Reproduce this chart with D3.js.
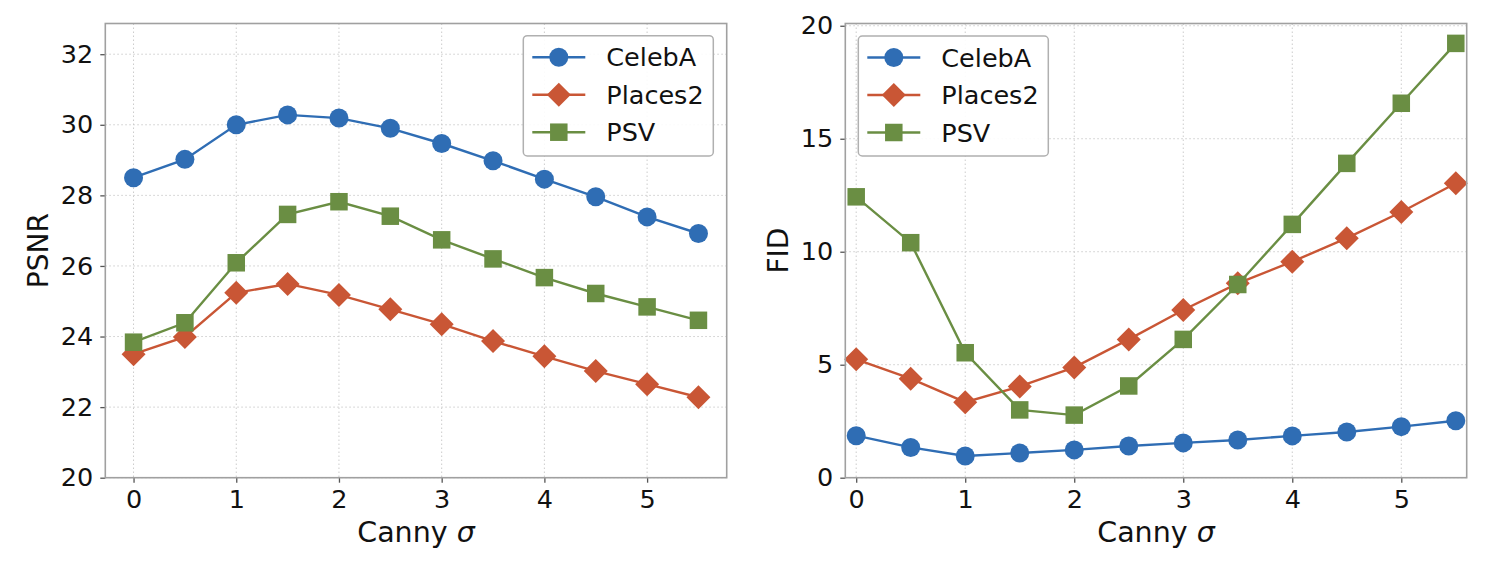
<!DOCTYPE html>
<html>
<head>
<meta charset="utf-8">
<script src="https://cdn.jsdelivr.net/npm/d3@7"></script>
<style>
  body { margin: 0; background: #fff; }
  svg { font-family: "DejaVu Sans", sans-serif; }
</style>
</head>
<body>
<div id="chart"></div>
<script>
// data
var sigmas = [0, 0.5, 1, 1.5, 2, 2.5, 3, 3.5, 4, 4.5, 5, 5.5];
var seriesNames = ["CelebA", "Places2", "PSV"];

var psnrCelebA  = [28.50, 29.02, 30.00, 30.28, 30.19, 29.90, 29.47, 28.98, 28.46, 27.96, 27.39, 26.92];
var psnrPlaces2 = [23.50, 23.99, 25.24, 25.49, 25.18, 24.77, 24.35, 23.87, 23.44, 23.02, 22.65, 22.28];
var psnrPSV     = [23.84, 24.39, 26.09, 27.46, 27.82, 27.41, 26.74, 26.20, 25.67, 25.22, 24.84, 24.46];

var fidCelebA  = [1.86, 1.34, 0.96, 1.09, 1.23, 1.40, 1.54, 1.67, 1.85, 2.02, 2.26, 2.52];
var fidPlaces2 = [5.24, 4.38, 3.34, 4.04, 4.88, 6.12, 7.42, 8.60, 9.56, 10.60, 11.76, 13.03];
var fidPSV     = [12.43, 10.40, 5.53, 3.00, 2.77, 4.06, 6.12, 8.55, 11.21, 13.91, 16.57, 19.22];

var xTicks = [0, 1, 2, 3, 4, 5];
var psnrTicks = [20, 22, 24, 26, 28, 30, 32];
var fidTicks = [0, 5, 10, 15, 20];

var colors = ["#2f6db4", "#c95635", "#6a8e43"];
var shapes = ["circle", "diamond", "square"];

var W = 1492, H = 564;
var svg = d3.select("#chart").append("svg")
  .attr("width", W).attr("height", H);

// draw one marker at (x, y)
function marker(g, shape, x, y, col) {
  if (shape == "circle") {
    g.append("circle").attr("cx", x).attr("cy", y).attr("r", 9.5).attr("fill", col);
  } else if (shape == "diamond") {
    var r = 12;
    g.append("path")
      .attr("d", "M" + x + "," + (y - r) + "L" + (x + r) + "," + y + "L" + x + "," + (y + r) + "L" + (x - r) + "," + y + "Z")
      .attr("fill", col);
  } else {
    var s = 17.5;
    g.append("rect").attr("x", x - s / 2).attr("y", y - s / 2).attr("width", s).attr("height", s)
      .attr("fill", col);
  }
}

function panel(opt) {
  var x = d3.scaleLinear().domain(opt.xDomain).range([opt.left, opt.right]);
  var y = d3.scaleLinear().domain(opt.yDomain).range([opt.bottom, opt.top]);
  var g = svg.append("g");

  // grid
  g.append("g").selectAll("line").data(xTicks).enter().append("line")
    .attr("x1", d => x(d)).attr("x2", d => x(d))
    .attr("y1", opt.top).attr("y2", opt.bottom)
    .attr("stroke", "#cccccc").attr("stroke-width", 1).attr("stroke-dasharray", "1.5,2.5");
  g.append("g").selectAll("line").data(opt.yTicks).enter().append("line")
    .attr("x1", opt.left).attr("x2", opt.right)
    .attr("y1", d => y(d)).attr("y2", d => y(d))
    .attr("stroke", "#cccccc").attr("stroke-width", 1).attr("stroke-dasharray", "1.5,2.5");

  // axes
  var xa = g.append("g").attr("transform", "translate(0," + opt.bottom + ")")
    .call(d3.axisBottom(x).tickValues(xTicks).tickSize(5).tickPadding(7).tickFormat(d3.format("d")));
  var ya = g.append("g").attr("transform", "translate(" + opt.left + ",0)")
    .call(d3.axisLeft(y).tickValues(opt.yTicks).tickSize(5).tickPadding(7).tickFormat(d3.format("d")));
  [xa, ya].forEach(function(a) {
    a.select(".domain").remove();
    a.selectAll(".tick line").attr("stroke", "#555").attr("stroke-width", 1.3);
    a.selectAll(".tick text").attr("font-size", 25.5).attr("fill", "#111")
      .attr("font-family", "DejaVu Sans");
  });

  // lines and markers
  opt.series.forEach(function(vals, i) {
    var line = d3.line().x((d, j) => x(sigmas[j])).y(d => y(d));
    g.append("path").datum(vals).attr("d", line)
      .attr("fill", "none").attr("stroke", colors[i]).attr("stroke-width", 2.4);
    var mg = g.append("g");
    vals.forEach(function(v, j) { marker(mg, shapes[i], x(sigmas[j]), y(v), colors[i]); });
  });

  // spines
  g.append("rect").attr("x", opt.left).attr("y", opt.top)
    .attr("width", opt.right - opt.left).attr("height", opt.bottom - opt.top)
    .attr("fill", "none").attr("stroke", "#a0a0a0").attr("stroke-width", 1.6);

  // axis labels
  var cx = (opt.left + opt.right) / 2;
  var xl = g.append("text").attr("x", cx).attr("y", 542).attr("text-anchor", "middle")
    .attr("font-size", 28.5).attr("fill", "#111");
  xl.append("tspan").text("Canny ");
  xl.append("tspan").attr("font-style", "italic").text("σ");
  g.append("text")
    .attr("transform", "translate(" + opt.yLabelX + "," + ((opt.top + opt.bottom) / 2) + ") rotate(-90)")
    .attr("text-anchor", "middle").attr("dy", "0.35em")
    .attr("font-size", 28).attr("fill", "#111").text(opt.yLabel);

  // legend
  var L = opt.legend;
  g.append("rect").attr("x", L.x).attr("y", L.y).attr("width", L.w).attr("height", L.h)
    .attr("rx", 4).attr("fill", "white").attr("fill-opacity", 0.9)
    .attr("stroke", "#b0b0b0").attr("stroke-width", 1.5);
  seriesNames.forEach(function(name, i) {
    var ly = L.y + 21.5 + i * 37.5;
    g.append("line").attr("x1", L.x + 9).attr("x2", L.x + 62).attr("y1", ly).attr("y2", ly)
      .attr("stroke", colors[i]).attr("stroke-width", 2.4);
    marker(g, shapes[i], L.x + 35.5, ly, colors[i]);
    g.append("text").attr("x", L.x + 83).attr("y", ly).attr("dy", "0.36em")
      .attr("font-size", 25.5).attr("fill", "#111").text(name);
  });
}

panel({
  left: 105.3, right: 726.7, top: 23.5, bottom: 477.7,
  xDomain: [-0.275, 5.775], yDomain: [20, 32.87],
  yTicks: psnrTicks, yLabel: "PSNR", yLabelX: 38,
  series: [psnrCelebA, psnrPlaces2, psnrPSV],
  legend: { x: 523.3, y: 35.7, w: 190, h: 120.3 }
});

panel({
  left: 845.3, right: 1466.7, top: 23.5, bottom: 477.7,
  xDomain: [-0.1, 5.6], yDomain: [0, 20.1],
  yTicks: fidTicks, yLabel: "FID", yLabelX: 778,
  series: [fidCelebA, fidPlaces2, fidPSV],
  legend: { x: 858.3, y: 36, w: 190, h: 120 }
});
</script>
</body>
</html>
